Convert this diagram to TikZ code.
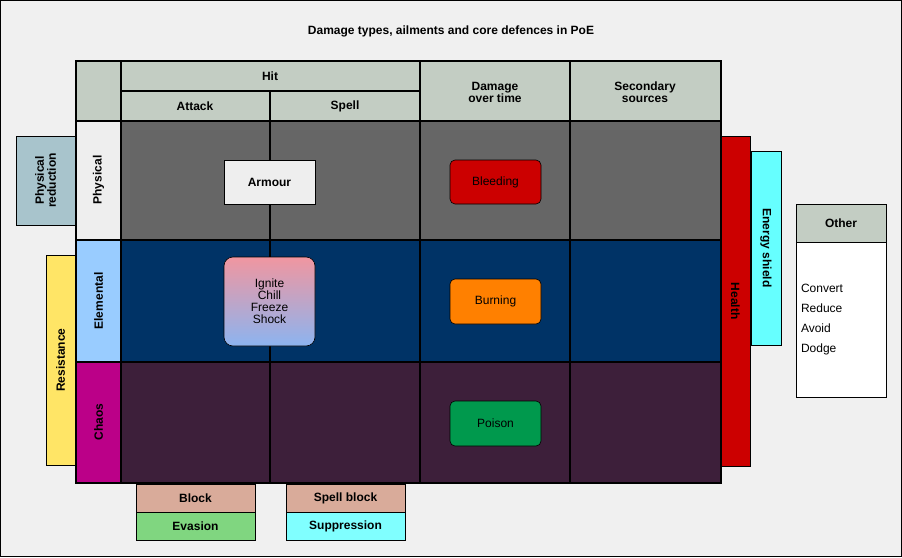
\documentclass[tikz,border=0pt]{standalone}
\usepackage{fontspec}
\setmainfont{Liberation Sans}
\begin{document}
\begin{tikzpicture}[x=1pt,y=-1pt,
 cell/.style={draw=black,line width=1.2pt,minimum width=#1,inner sep=0pt},
 box/.style={draw=black,line width=0.6pt,font=\fontsize{12}{14}\selectfont},
 hdr/.style={font=\bfseries\fontsize{12}{14}\selectfont,align=center},
 rot/.style={hdr,rotate=90}]
\definecolor{hg}{HTML}{C3CDC3}
\useasboundingbox (0,0) rectangle (902,557);
\fill[fill={rgb,255:red,240;green,240;blue,240}] (0.5,0.5) rectangle (901.5,556.5);
\draw[black,line width=0.8pt] (0.5,0.5) rectangle (901.5,556.5);
\node[hdr] (title) at (451,31) {Damage types, ailments and core defences in PoE};
% rows
\draw[line width=1.5pt,fill={rgb,255:red,102;green,102;blue,102}] (121,121) rectangle (721,240);
\draw[line width=1.5pt,fill={rgb,255:red,0;green,51;blue,102}] (121,240) rectangle (721,362);
\draw[line width=1.5pt,fill={rgb,255:red,61;green,31;blue,58}] (121,362) rectangle (721,483);
% header cells
\draw[line width=1.5pt,fill=hg] (76,61) rectangle (121,121);
\draw[line width=1.5pt,fill=hg] (121,61) rectangle (420,91);
\draw[line width=1.5pt,fill=hg] (121,91) rectangle (270,121);
\draw[line width=1.5pt,fill=hg] (270,91) rectangle (420,121);
\draw[line width=1.5pt,fill=hg] (420,61) rectangle (570,121);
\draw[line width=1.5pt,fill=hg] (570,61) rectangle (721,121);
\node[hdr] (hit) at (270,76) {Hit};
\node[hdr] (att) at (195,106) {Attack};
\node[hdr] (spl) at (345,106) {Spell};
\node[hdr] (dot) at (495,92) {Damage\\[-2pt]over time};
\node[hdr] (sec) at (645,92) {Secondary\\[-2pt]sources};
% column lines
\foreach \x in {270,420,570}{\draw[line width=1.5pt] (\x,121) -- (\x,483);}
% row labels
\draw[line width=1.5pt,fill={rgb,255:red,238;green,238;blue,238}] (76,121) rectangle (121,240);
\draw[line width=1.5pt,fill={rgb,255:red,153;green,204;blue,255}] (76,240) rectangle (121,362);
\draw[line width=1.5pt,fill={rgb,255:red,187;green,0;blue,136}] (76,362) rectangle (121,483);
\node[rot] (phy) at (98.5,180) {Physical};
\node[rot] (ele) at (98.5,301) {Elemental};
\node[rot] (cha) at (98.5,422) {Chaos};
\draw[line width=1.8pt] (76,61) rectangle (721,483);
% inner boxes
\node[box,fill={rgb,255:red,238;green,238;blue,238},minimum width=91,minimum height=44,font=\bfseries\fontsize{12}{14}\selectfont] (arm) at (269.5,182) {Armour};
\node[box,fill={rgb,255:red,204;green,0;blue,0},rounded corners=5pt,minimum width=91,minimum height=44] (bld) at (495.5,182) {Bleeding};
\node[box,top color={rgb,255:red,240;green,150;blue,160},bottom color={rgb,255:red,140;green,180;blue,240},rounded corners=9pt,minimum width=91,minimum height=89,align=center] (ign) at (269.5,301.5) {Ignite\\[-2pt]Chill\\[-2pt]Freeze\\[-2pt]Shock};
\node[box,fill={rgb,255:red,255;green,128;blue,0},rounded corners=5pt,minimum width=91,minimum height=45] (brn) at (495.5,301.5) {Burning};
\node[box,fill={rgb,255:red,0;green,153;blue,77},rounded corners=5pt,minimum width=91,minimum height=45] (poi) at (495.5,423.5) {Poison};
% side defences
\node[box,fill={rgb,255:red,168;green,196;blue,204},minimum width=89,minimum height=59,rotate=90,hdr,inner sep=0pt] (pr) at (45.5,180.5) {Physical\\[-2pt]reduction};
\node[box,fill={rgb,255:red,255;green,229;blue,102},minimum width=210,minimum height=29,rotate=90,hdr] (res) at (60.5,360) {Resistance};
\node[box,fill={rgb,255:red,204;green,0;blue,0},minimum width=330,minimum height=29,rotate=-90,hdr] (hp) at (735.5,301) {Health};
\node[box,fill={rgb,255:red,102;green,255;blue,255},minimum width=194,minimum height=30,rotate=-90,hdr] (es) at (766,248) {Energy shield};
% other
\node[box,fill=hg,minimum width=90,minimum height=38,hdr] (oth) at (841,223) {Other};
\node[box,fill=white,minimum width=90,minimum height=155,anchor=north,align=left,text width=80] (othb) at (841,242) {Convert\\[6pt]Reduce\\[6pt]Avoid\\[6pt]Dodge};
% bottom
\node[box,fill={rgb,255:red,217;green,171;blue,154},minimum width=119,minimum height=28,hdr] (blk) at (195.5,498) {Block};
\node[box,fill={rgb,255:red,128;green,214;blue,128},minimum width=119,minimum height=28,hdr] (eva) at (195.5,526) {Evasion};
\node[box,fill={rgb,255:red,217;green,171;blue,154},minimum width=119,minimum height=28,hdr] (sblk) at (345.5,498) {Spell block};
\node[box,fill={rgb,255:red,128;green,255;blue,255},minimum width=119,minimum height=28,hdr] (sup) at (345.5,526) {Suppression};
\end{tikzpicture}
\end{document}
